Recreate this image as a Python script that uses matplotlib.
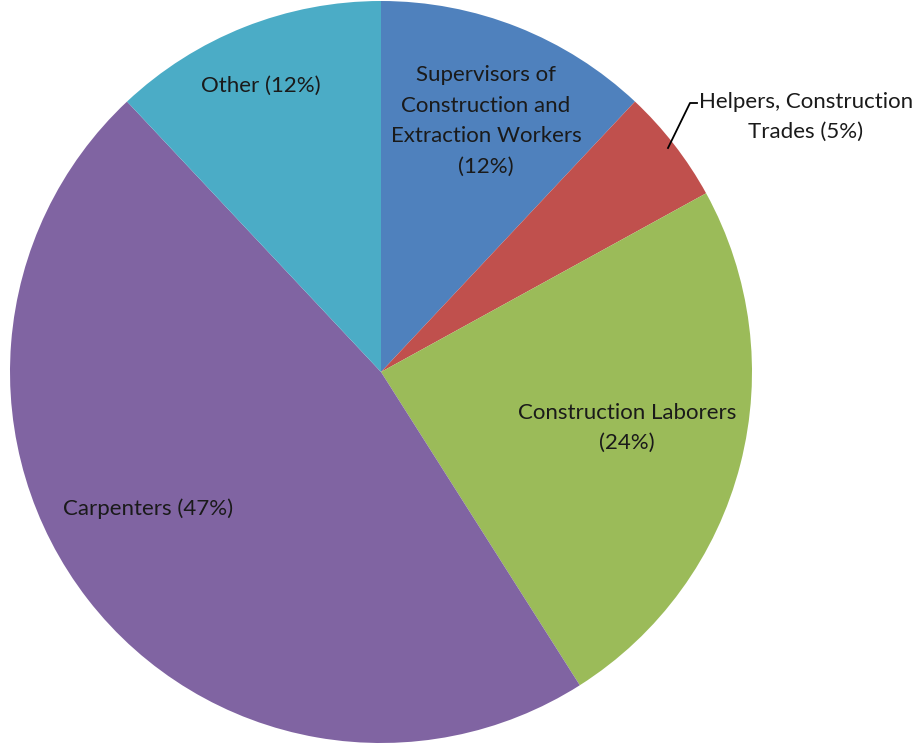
import matplotlib.pyplot as plt

# share of workers by occupation, clockwise from 12 o'clock
occupations = ["Supervisors of\nConstruction and\nExtraction Workers",
               "Helpers, Construction\nTrades",
               "Construction Laborers\n",
               "Carpenters",
               "Other"]
shares = [12, 5, 24, 47, 12]
colors = ["#4F81BD", "#C0504D", "#9BBB59", "#8064A2", "#4BACC6"]

W, H = 918, 745
fig = plt.figure(figsize=(W / 100, H / 100), dpi=100)
ax = fig.add_axes([0, 0, 1, 1])

cx, cy, r = 381, H - 372, 371
ax.pie(shares, colors=colors, startangle=90, counterclock=False,
       center=(cx, cy), radius=r, wedgeprops=dict(linewidth=0))
ax.set_xlim(0, W)
ax.set_ylim(0, H)
ax.set_aspect("auto")
ax.axis("off")

font = dict(family=["Lato", "DejaVu Sans"], fontsize=16, color="#1a1a1a",
            linespacing=1.65, ha="center", va="center")

# label positions in pixels (x, y from top)
label_pos = [(486, 121), (806, 117), (627, 428), (148, 509), (261, 86)]
for name, pct, (x, y) in zip(occupations, shares, label_pos):
    if name.endswith("\n"):
        txt = name + "(%d%%)" % pct
    elif name.count("\n") == 2:
        txt = name + "\n(%d%%)" % pct
    else:
        txt = name + " (%d%%)" % pct
    ax.text(x, H - y, txt, **font)

# leader line for the small Helpers slice
ax.plot([668, 690, 697], [H - 148, H - 103, H - 103], color="black", lw=1.3)

fig.savefig("out.png", dpi=100)
